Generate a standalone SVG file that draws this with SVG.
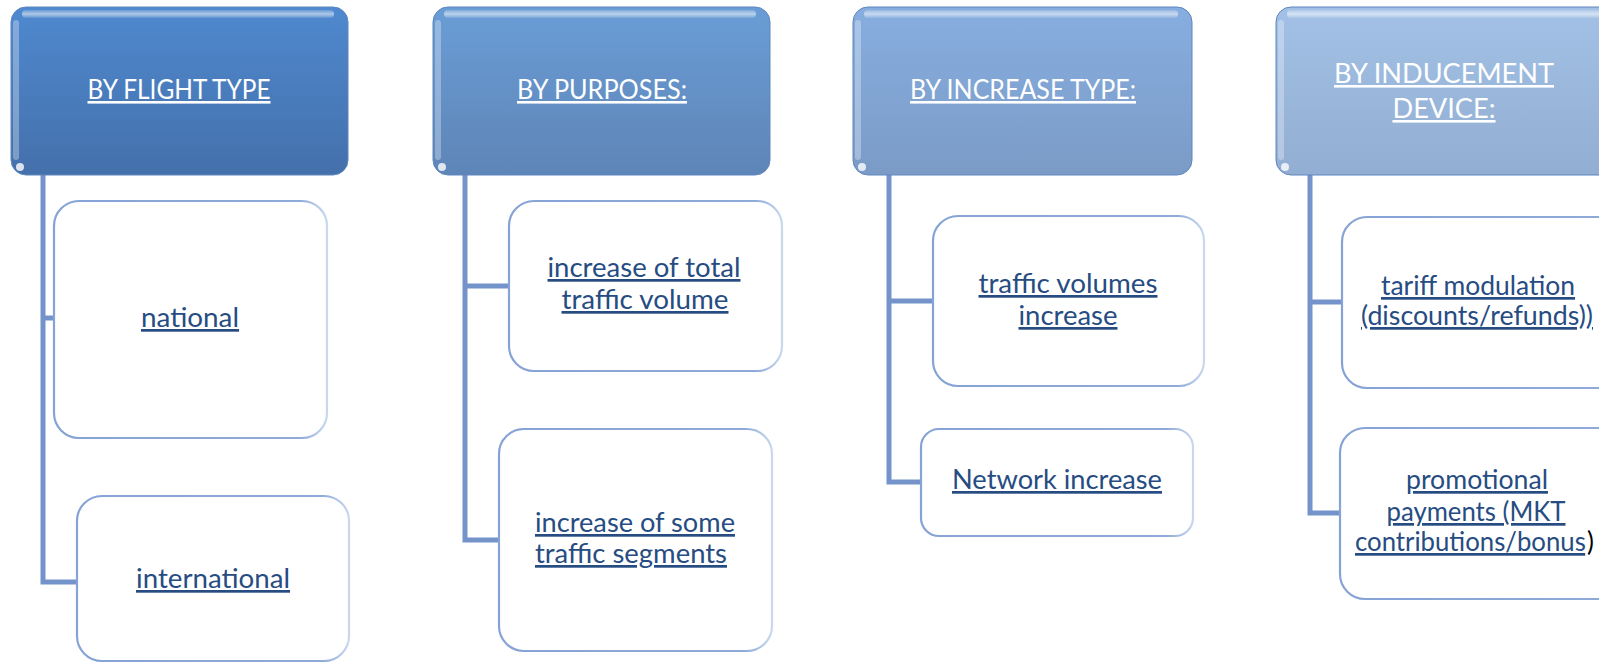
<svg xmlns="http://www.w3.org/2000/svg" width="1599" height="663" viewBox="0 0 1599 663">
<defs>
<linearGradient id="g1" x1="0" y1="0" x2="0" y2="1"><stop offset="0" stop-color="#4f89cf"/><stop offset="1" stop-color="#4470ab"/></linearGradient>
<linearGradient id="g2" x1="0" y1="0" x2="0" y2="1"><stop offset="0" stop-color="#6a9dd6"/><stop offset="1" stop-color="#5e85b7"/></linearGradient>
<linearGradient id="g3" x1="0" y1="0" x2="0" y2="1"><stop offset="0" stop-color="#87aee0"/><stop offset="1" stop-color="#7b9bc6"/></linearGradient>
<linearGradient id="g4" x1="0" y1="0" x2="0" y2="1"><stop offset="0" stop-color="#a3c1e6"/><stop offset="1" stop-color="#92aed2"/></linearGradient>
<linearGradient id="bs" x1="0" y1="0" x2="1" y2="0"><stop offset="0" stop-color="#86a3d6"/><stop offset="0.9" stop-color="#8eaad9"/><stop offset="1" stop-color="#c9d8ef"/></linearGradient>
<linearGradient id="hl" x1="0" y1="0" x2="0" y2="1"><stop offset="0" stop-color="#ffffff" stop-opacity="0.15"/><stop offset="0.5" stop-color="#ffffff" stop-opacity="0.55"/><stop offset="1" stop-color="#ffffff" stop-opacity="0.1"/></linearGradient>
</defs>
<style>
.hdr{stroke:#5f86bf;stroke-width:1}
.hi{fill:url(#hl)}
.side{fill:#ffffff;fill-opacity:0.3}
.box{fill:#ffffff;stroke:url(#bs);stroke-width:2.2}
.con{fill:none;stroke:#7393ca;stroke-width:5;stroke-linejoin:miter}
text{font-family:Lato,"Liberation Sans",Arial,sans-serif;font-size:27px;text-decoration:underline}
.ht{fill:#ffffff;text-anchor:middle;font-size:26px}
.ct{fill:#264c82;text-anchor:middle}
.cs{fill:#264c82}
text.nu{text-decoration:none}
.u{text-decoration:underline}
</style>

<g id="connectors">
<path class="con" d="M43,175 V582 H78 M43,318 H55"/>
<path class="con" d="M465,175 V540 H500 M465,286 H510"/>
<path class="con" d="M889,175 V482 H922 M889,301 H934"/>
<path class="con" d="M1310,175 V513 H1341 M1310,302 H1343"/>
</g>

<g id="h1">
<rect class="hdr" x="11" y="7" width="337" height="168" rx="15" fill="url(#g1)"/>
<rect class="hi" x="22" y="10" width="312" height="8" rx="4"/>
<rect class="side" x="13" y="20" width="6" height="140" rx="3"/>
<circle cx="20" cy="167" r="4" fill="#ffffff" fill-opacity="0.8"/>
<text class="ht" x="179" y="99" textLength="183" lengthAdjust="spacingAndGlyphs">BY FLIGHT TYPE</text>
</g>
<g id="h2">
<rect class="hdr" x="433" y="7" width="337" height="168" rx="15" fill="url(#g2)"/>
<rect class="hi" x="444" y="10" width="312" height="8" rx="4"/>
<rect class="side" x="435" y="20" width="6" height="140" rx="3"/>
<circle cx="442" cy="167" r="4" fill="#ffffff" fill-opacity="0.8"/>
<text class="ht" x="602" y="99" textLength="170" lengthAdjust="spacingAndGlyphs">BY PURPOSES:</text>
</g>
<g id="h3">
<rect class="hdr" x="853" y="7" width="339" height="168" rx="15" fill="url(#g3)"/>
<rect class="hi" x="864" y="10" width="314" height="8" rx="4"/>
<rect class="side" x="855" y="20" width="6" height="140" rx="3"/>
<circle cx="862" cy="167" r="4" fill="#ffffff" fill-opacity="0.8"/>
<text class="ht" x="1023" y="99" textLength="226" lengthAdjust="spacingAndGlyphs">BY INCREASE TYPE:</text>
</g>
<g id="h4">
<rect class="hdr" x="1276" y="7" width="345" height="168" rx="15" fill="url(#g4)"/>
<rect class="hi" x="1287" y="10" width="330" height="8" rx="4"/>
<rect class="side" x="1278" y="20" width="6" height="140" rx="3"/>
<circle cx="1285" cy="167" r="4" fill="#ffffff" fill-opacity="0.8"/>
<text class="ht" x="1444" y="83" textLength="220" lengthAdjust="spacingAndGlyphs">BY INDUCEMENT</text>
<text class="ht" x="1444" y="118" textLength="103" lengthAdjust="spacingAndGlyphs">DEVICE:</text>
</g>

<g id="n1a">
<rect class="box" x="54" y="201" width="273" height="237" rx="25"/>
<text class="ct" x="190" y="327" textLength="98" lengthAdjust="spacingAndGlyphs">national</text>
</g>
<g id="n1b">
<rect class="box" x="77" y="496" width="272" height="165" rx="25"/>
<text class="ct" x="213" y="588" textLength="154" lengthAdjust="spacingAndGlyphs">international</text>
</g>
<g id="n2a">
<rect class="box" x="509" y="201" width="273" height="170" rx="25"/>
<text class="ct" x="644" y="277" textLength="193" lengthAdjust="spacingAndGlyphs">increase of total</text>
<text class="ct" x="645" y="309" textLength="167" lengthAdjust="spacingAndGlyphs">traffic volume</text>
</g>
<g id="n2b">
<rect class="box" x="499" y="429" width="273" height="222" rx="25"/>
<text class="cs" x="535" y="532" textLength="200" lengthAdjust="spacingAndGlyphs">increase of some</text>
<text class="cs" x="535" y="563" textLength="192" lengthAdjust="spacingAndGlyphs">traffic segments</text>
</g>
<g id="n3a">
<rect class="box" x="933" y="216" width="271" height="170" rx="25"/>
<text class="ct" x="1068" y="293" textLength="179" lengthAdjust="spacingAndGlyphs">traffic volumes</text>
<text class="ct" x="1068" y="325" textLength="99" lengthAdjust="spacingAndGlyphs">increase</text>
</g>
<g id="n3b">
<rect class="box" x="921" y="429" width="272" height="107" rx="18"/>
<text class="ct" x="1057" y="489" textLength="210" lengthAdjust="spacingAndGlyphs">Network increase</text>
</g>
<g id="n4a">
<rect class="box" x="1342" y="217" width="290" height="171" rx="25"/>
<text class="ct" x="1478" y="295" textLength="194" lengthAdjust="spacingAndGlyphs">tariff modulation</text>
<text class="ct" x="1477" y="325" textLength="232" lengthAdjust="spacingAndGlyphs">(discounts/refunds))</text>
</g>
<g id="n4b">
<rect class="box" x="1340" y="428" width="292" height="171" rx="25"/>
<text class="ct" x="1477" y="489" textLength="142" lengthAdjust="spacingAndGlyphs">promotional</text>
<text class="ct" x="1476" y="521" textLength="179" lengthAdjust="spacingAndGlyphs">payments (MKT</text>
<text class="cs nu" x="1355" y="551" textLength="239" lengthAdjust="spacingAndGlyphs"><tspan class="u">contributions/bonus</tspan><tspan fill="#000000" dx="2">)</tspan></text>
</g>
</svg>
